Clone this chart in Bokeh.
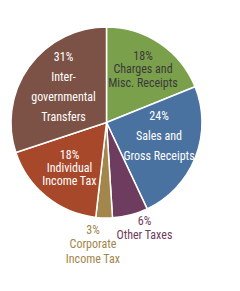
import math
from bokeh.plotting import figure
from bokeh.models import ColumnDataSource, Range1d
from bokeh.core.properties import value
from bokeh.embed import file_html
from bokeh.resources import INLINE

# ---- data ----
categories = ["Charges and Misc. Receipts", "Sales and Gross Receipts", "Other Taxes",
              "Corporate Income Tax", "Individual Income Tax", "Intergovernmental Transfers"]
shares = [18.9, 24.1, 6.0, 2.8, 18.1, 30.1]
pct_labels = ["18%", "24%", "6%", "3%", "18%", "31%"]
label_lines = [["Charges and", "Misc. Receipts"], ["Sales and", "Gross Receipts"], ["Other Taxes"],
               ["Corporate", "Income Tax"], ["Individual", "Income Tax"],
               ["Inter-", "governmental", "Transfers"]]

# ---- style / layout ----
W, H = 240, 291
colors = ["#7BA04C", "#4A72A1", "#6D3C5E", "#A3864B", "#A8482A", "#7C5246"]
text_colors = ["#3A3A3A", "#FFFFFF", "#6D3C5E", "#A3864B", "#FFFFFF", "#FFFFFF"]
cx, cy, R = 106, 122, 95.5
# label layout: (center x, y of percent line, line spacing) in pixel coords
label_pos = [(142.5, 55, 13.6), (158.5, 115, 20), (144, 220, 14.3),
             (92.5, 229.3, 14.5), (69, 154, 13.4), (63, 56, 20.2)]
FONT = value("'Liberation Sans Narrow', 'Roboto Condensed', 'Noto Sans Condensed', "
             "'Open Sans Condensed', 'DejaVu Sans Condensed', sans-serif")

p = figure(width=W, height=H, x_range=Range1d(0, W), y_range=Range1d(0, H),
           output_backend="svg", toolbar_location=None, min_border=0)
p.axis.visible = False
p.grid.visible = False
p.outline_line_color = None
p.background_fill_color = "white"

total = sum(shares)
starts, ends = [], []
cum = 0.0
for s in shares:
    starts.append(math.pi / 2 - 2 * math.pi * cum / total)
    cum += s
    ends.append(math.pi / 2 - 2 * math.pi * cum / total)

src = ColumnDataSource(dict(cat=categories, start=starts, end=ends, color=colors))
p.wedge(x=cx, y=H - cy, radius=R, start_angle="start", end_angle="end", direction="clock",
        fill_color="color", line_color="white", line_width=1.5, source=src)

tx, ty, tt, tc = [], [], [], []
for i in range(len(categories)):
    x0, y0, sp = label_pos[i]
    lines = [pct_labels[i]] + label_lines[i]
    for j, ln in enumerate(lines):
        tx.append(x0)
        ty.append(H - (y0 + j * sp))
        tt.append(ln)
        tc.append(text_colors[i])

tsrc = ColumnDataSource(dict(x=tx, y=ty, text=tt, color=tc))
p.text(x="x", y="y", text="text", text_color="color", text_font=FONT,
       text_font_size="12px", text_align="center", text_baseline="middle", source=tsrc)

open("out.html", "w").write(file_html(p, INLINE))
